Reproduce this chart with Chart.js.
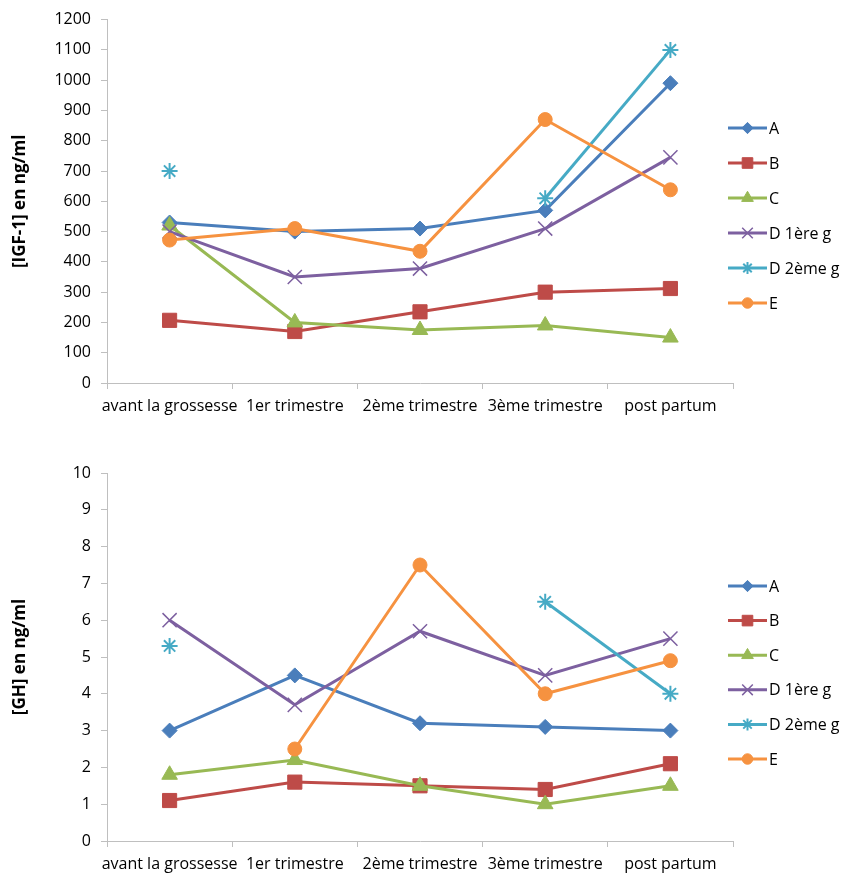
<!DOCTYPE html>
<html>
<head>
<meta charset="utf-8">
<script src="https://cdn.jsdelivr.net/npm/chart.js@4.4.0/dist/chart.umd.min.js"></script>
<style>
  body { margin: 0; background: #fff; }
  #wrap { position: relative; width: 845px; height: 877px; }
  canvas { position: absolute; left: 0; }
</style>
</head>
<body>
<div id="wrap">
  <canvas id="igfChart" width="845" height="430" style="top:0"></canvas>
  <canvas id="ghChart" width="845" height="437" style="top:440px"></canvas>
</div>
<script>
// categories on the x axis
const periods = ['avant la grossesse', '1er trimestre', '2ème trimestre', '3ème trimestre', 'post partum'];
const seriesNames = ['A', 'B', 'C', 'D 1ère g', 'D 2ème g', 'E'];

// [IGF-1] en ng/ml (top chart)
const igfA  = [530, 500, 510, 570, 990];
const igfB  = [207, 170, 235, 300, 312];
const igfC  = [520, 200, 175, 190, 150];
const igfD1 = [500, 350, 378, 510, 745];
const igfD2 = [700, null, null, 610, 1100];
const igfE  = [472, 510, 435, 870, 638];

// [GH] en ng/ml (bottom chart)
const ghA  = [3.0, 4.5, 3.2, 3.1, 3.0];
const ghB  = [1.1, 1.6, 1.5, 1.4, 2.1];
const ghC  = [1.8, 2.2, 1.5, 1.0, 1.5];
const ghD1 = [6.0, 3.7, 5.7, 4.5, 5.5];
const ghD2 = [5.3, null, null, 6.5, 4.0];
const ghE  = [null, 2.5, 7.5, 4.0, 4.9];

// y axis ranges
const igfMax = 1200, igfStep = 100;
const ghMax = 10, ghStep = 1;

const colors = ['#4A7EBB', '#BE4B48', '#98B954', '#7D60A0', '#46AAC5', '#F69240'];
const markers = ['rectRot', 'rect', 'triangle', 'crossRot', 'star', 'circle'];
const markerSize = [7.5, 10, 9, 10, 8, 7];
const markerBorder = [1, 1, 1, 1.5, 2, 1];

const FONT = '"Open Sans", "DejaVu Sans", sans-serif';
const AXIS_GREY = '#BFBFBF';

function makeDatasets(seriesList) {
  return seriesList.map(function (values, i) {
    return {
      label: seriesNames[i],
      data: values,
      borderColor: colors[i],
      backgroundColor: colors[i],
      borderWidth: 3,
      pointStyle: markers[i],
      pointRadius: markerSize[i],
      pointBackgroundColor: colors[i],
      pointBorderColor: colors[i],
      pointBorderWidth: markerBorder[i],
      spanGaps: false,
      tension: 0,
      order: seriesList.length - i   // last series drawn on top, like Excel
    };
  });
}

// legend with a line segment and the marker in its middle
const excelLegend = {
  id: 'excelLegend',
  afterDraw(chart, args, opts) {
    const ctx = chart.ctx;
    chart.data.datasets.forEach(function (ds, i) {
      const y = opts.top + i * opts.gap;
      const x = opts.left;
      ctx.save();
      ctx.strokeStyle = ds.borderColor;
      ctx.lineWidth = 3;
      ctx.beginPath();
      ctx.moveTo(x, y);
      ctx.lineTo(x + 39, y);
      ctx.stroke();
      ctx.fillStyle = ds.pointBackgroundColor;
      ctx.strokeStyle = ds.pointBorderColor;
      ctx.lineWidth = ds.pointBorderWidth;
      Chart.helpers.drawPoint(ctx, {
        pointStyle: ds.pointStyle,
        radius: ds.pointRadius * 0.75,
        rotation: 0,
        borderWidth: ds.pointBorderWidth
      }, x + 19.5, y);
      ctx.fillStyle = '#000';
      ctx.font = '16px ' + FONT;
      ctx.textBaseline = 'middle';
      ctx.textAlign = 'left';
      ctx.fillText(ds.label, x + 41, y + 1);
      ctx.restore();
    });
  }
};

function makeChart(canvasId, datasets, yMax, yStep, yTitle, padTop, xHeight, legendTop, legendGap) {
  return new Chart(document.getElementById(canvasId), {
    type: 'line',
    data: { labels: periods, datasets: datasets },
    plugins: [excelLegend],
    options: {
      responsive: false,
      animation: false,
      layout: { padding: { top: padTop, right: 112, bottom: 0, left: 0 } },
      plugins: {
        legend: { display: false },
        tooltip: { enabled: false },
        excelLegend: { left: 728, top: legendTop, gap: legendGap }
      },
      scales: {
        x: {
          offset: true,
          ticks: {
            color: '#000',
            font: { family: FONT, size: 16 },
            maxRotation: 0, minRotation: 0, autoSkip: false, padding: 8
          },
          grid: { offset: true, drawOnChartArea: false, drawTicks: true, tickLength: 6, color: AXIS_GREY },
          border: { color: AXIS_GREY, width: 1 },
          afterFit: function (s) { s.height = xHeight; }
        },
        y: {
          min: 0, max: yMax,
          ticks: {
            stepSize: yStep,
            color: '#000',
            font: { family: FONT, size: 16 },
            padding: 10,
            callback: function (v) { return String(v); }
          },
          grid: { drawOnChartArea: false, drawTicks: true, tickLength: 6, color: AXIS_GREY },
          border: { color: AXIS_GREY, width: 1 },
          title: {
            display: true,
            text: yTitle,
            color: '#000',
            font: { family: FONT, size: 17, weight: 'bold' },
            padding: { top: 10, bottom: 0 }
          },
          afterFit: function (s) { s.width = 107; }
        }
      }
    }
  });
}

makeChart('igfChart',
  makeDatasets([igfA, igfB, igfC, igfD1, igfD2, igfE]),
  igfMax, igfStep, '[IGF-1] en ng/ml', 18, 47, 128, 35);

makeChart('ghChart',
  makeDatasets([ghA, ghB, ghC, ghD1, ghD2, ghE]),
  ghMax, ghStep, '[GH] en ng/ml', 33, 36, 146, 34.6);
</script>
</body>
</html>
